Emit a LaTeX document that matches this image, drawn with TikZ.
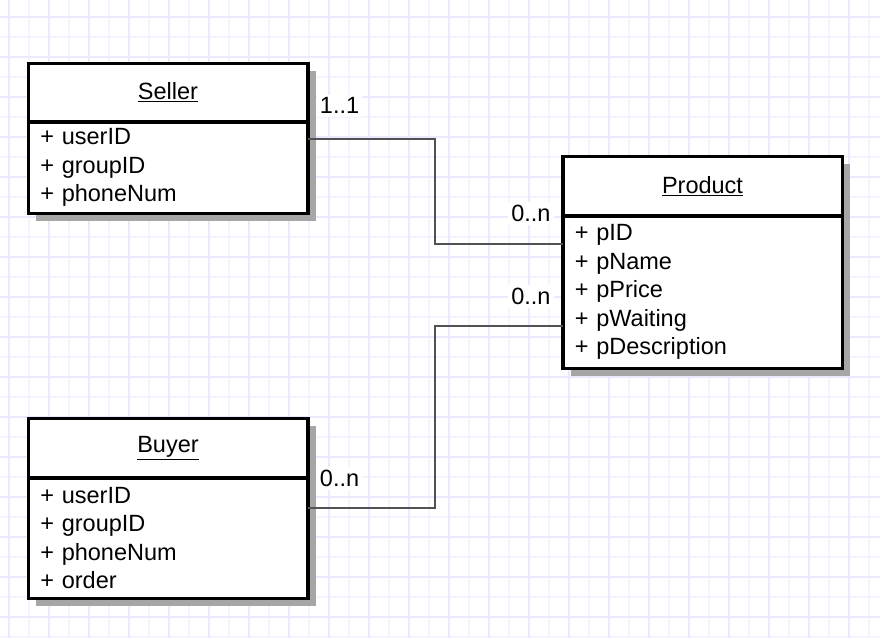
\documentclass[tikz,border=0pt]{standalone}
\usepackage{fontspec}
\setmainfont{Liberation Sans}
\usetikzlibrary{calc,positioning,shadows}
\definecolor{gridlight}{RGB}{245,243,255}
\definecolor{griddark}{RGB}{236,233,255}

\begin{document}
\begin{tikzpicture}[x=1pt,y=-1pt,
	uml/.style={font=\fontsize{23.5}{28.5}\selectfont},
	classhead/.style={uml,draw,line width=3.5pt,fill=white,outer sep=0pt,inner sep=0pt,
		minimum width=279.5pt,minimum height=58.5pt,
		drop shadow={shadow xshift=8pt,shadow yshift=-8pt,fill=black!35,opacity=1}},
	classbody/.style={classhead,align=left,text width=255.5pt,inner xsep=12pt},
	assoc/.style={draw=black!68,line width=2.2pt},
	mult/.style={uml,fill=white,inner sep=3pt},
	gridminor/.style={draw=gridlight,line width=1.4pt},
	gridmajor/.style={draw=griddark,line width=1.4pt}]
	\useasboundingbox (0,0) rectangle (880,638);
	\fill[white] (0,0) rectangle (880,638);
	% grid
	\foreach \x in {29,69,...,869} \draw[gridminor] (\x,0) -- (\x,638);
	\foreach \y in {37,77,...,637} \draw[gridminor] (0,\y) -- (880,\y);
	\foreach \x in {9,49,...,849} \draw[gridmajor] (\x,0) -- (\x,638);
	\foreach \y in {17,57,...,617} \draw[gridmajor] (0,\y) -- (880,\y);
	%
	\node[classhead] (seller) at (168,92.5) {\underline{Seller}};
	\node[classbody,below=0pt of seller,minimum height=91.5pt] (sellerattr) {+ userID\\+ groupID\\+ phoneNum};
	\node[classhead,minimum height=59.5pt] (product) at (702.5,186) {\underline{Product}};
	\node[classbody,below=0pt of product,minimum height=152.5pt] (productattr) {+ pID\\+ pName\\+ pPrice\\+ pWaiting\\+ pDescription};
	\node[classhead,minimum height=59.5pt] (buyer) at (168,448) {\underline{Buyer}};
	\node[classbody,below=0pt of buyer,minimum height=120.5pt] (buyerattr) {+ userID\\+ groupID\\+ phoneNum\\+ order};
	%
	\draw[assoc] ([yshift=-17pt]sellerattr.north east) -- ++(127,0) |- ([yshift=-28pt]productattr.north west);
	\draw[assoc] ([yshift=-30pt]buyerattr.north east) -- ++(127,0) |- ([yshift=-110pt]productattr.north west);
	%
	\node[mult,anchor=base west] (sellermult) at ([xshift=9pt,yshift=8pt]sellerattr.north east) {1..1};
	\node[mult,anchor=base east] (productmulta) at ([xshift=-9pt,yshift=-6pt]productattr.north west) {0..n};
	\node[mult,anchor=base east] (productmultb) at ([xshift=-9pt,yshift=-89pt]productattr.north west) {0..n};
	\node[mult,anchor=base west] (buyermult) at ([xshift=9pt,yshift=-9pt]buyerattr.north east) {0..n};
\end{tikzpicture}
\end{document}
